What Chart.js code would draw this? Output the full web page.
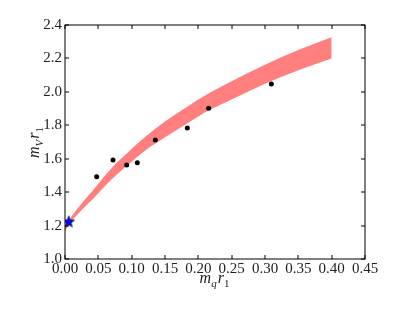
<!DOCTYPE html>
<html>
<head>
<meta charset="utf-8">
<script src="https://cdn.jsdelivr.net/npm/chart.js"></script>
<style>
  html, body { margin: 0; padding: 0; background: #fff; }
</style>
</head>
<body>
<canvas id="chart" width="399" height="319"></canvas>
<script>
// fit band (upper / lower edge)
const bandX     = [0.000, 0.005, 0.020, 0.045, 0.070, 0.095, 0.120, 0.150, 0.185, 0.215, 0.250, 0.300, 0.350, 0.400];
const bandUpper = [1.185, 1.224, 1.308, 1.427, 1.545, 1.640, 1.730, 1.822, 1.915, 1.990, 2.064, 2.162, 2.250, 2.326];
const bandLower = [1.165, 1.200, 1.272, 1.373, 1.477, 1.566, 1.648, 1.728, 1.815, 1.888, 1.955, 2.048, 2.130, 2.200];

// lattice points
const pointX = [0.0475, 0.072, 0.0925, 0.1085, 0.1355, 0.1835, 0.2155, 0.3095];
const pointY = [1.492, 1.592, 1.562, 1.576, 1.712, 1.784, 1.902, 2.047];

// physical point (star)
const starX = [0.0055];
const starY = [1.225];

const xTicks = [0, 0.05, 0.10, 0.15, 0.20, 0.25, 0.30, 0.35, 0.40, 0.45];
const yTicks = [1.0, 1.2, 1.4, 1.6, 1.8, 2.0, 2.2, 2.4];

const FONT = "'Liberation Serif', 'DejaVu Serif', serif";

function starImage(r) {
  const c = document.createElement('canvas');
  const s = Math.ceil(r * 2 + 4);
  c.width = s; c.height = s;
  const g = c.getContext('2d');
  g.translate(s / 2, s / 2 + r * 0.1);
  g.beginPath();
  for (let i = 0; i < 10; i++) {
    const rad = i % 2 ? r * 0.42 : r;
    const ang = -Math.PI / 2 + i * Math.PI / 5;
    g.lineTo(rad * Math.cos(ang), rad * Math.sin(ang));
  }
  g.closePath();
  g.fillStyle = '#0000ff';
  g.fill();
  g.strokeStyle = '#000060';
  g.lineWidth = 0.8;
  g.stroke();
  return c;
}

// draw "m_q r_1" style labels, parts: [text, isSub, italic]
function drawLabel(ctx, parts, cx, cy) {
  const big = 16, small = 11;
  let w = 0;
  parts.forEach(p => {
    ctx.font = (p[2] ? 'italic ' : '') + (p[1] ? small : big) + 'px ' + FONT;
    w += ctx.measureText(p[0]).width + (p[1] ? 1 : 0);
  });
  let x = cx - w / 2;
  parts.forEach(p => {
    ctx.font = (p[2] ? 'italic ' : '') + (p[1] ? small : big) + 'px ' + FONT;
    ctx.fillText(p[0], x, cy + (p[1] ? 4 : 0));
    x += ctx.measureText(p[0]).width + (p[1] ? 1 : 0);
  });
}

const frame = {
  id: 'frame',
  afterDraw(chart) {
    const { ctx, chartArea: a, scales: { x, y } } = chart;
    ctx.save();
    ctx.strokeStyle = '#000';
    ctx.lineWidth = 1;
    ctx.strokeRect(a.left, a.top, a.right - a.left, a.bottom - a.top);
    ctx.beginPath();
    xTicks.forEach(v => {
      const px = Math.round(x.getPixelForValue(v));
      ctx.moveTo(px, a.bottom); ctx.lineTo(px, a.bottom - 4);
      ctx.moveTo(px, a.top); ctx.lineTo(px, a.top + 4);
    });
    yTicks.forEach(v => {
      const py = Math.round(y.getPixelForValue(v));
      ctx.moveTo(a.left, py); ctx.lineTo(a.left + 4, py);
      ctx.moveTo(a.right, py); ctx.lineTo(a.right - 4, py);
    });
    ctx.stroke();

    ctx.fillStyle = '#222';
    ctx.textBaseline = 'alphabetic';
    ctx.textAlign = 'left';
    drawLabel(ctx, [['m', 0, 1], ['q', 1, 1], ['r', 0, 1], ['1', 1, 0]], (a.left + a.right) / 2, 283);
    ctx.translate(39, (a.top + a.bottom) / 2);
    ctx.rotate(-Math.PI / 2);
    drawLabel(ctx, [['m', 0, 1], ['V', 1, 1], ['r', 0, 1], ['1', 1, 0]], 0, 0);
    ctx.restore();
  }
};

const ctx = document.getElementById('chart').getContext('2d');
new Chart(ctx, {
  type: 'scatter',
  data: {
    datasets: [
      {
        label: 'fit upper',
        data: bandX.map((v, i) => ({ x: v, y: bandUpper[i] })),
        showLine: true,
        borderWidth: 0,
        borderColor: 'rgba(0,0,0,0)',
        pointRadius: 0,
        fill: false,
        cubicInterpolationMode: 'monotone',
        order: 3
      },
      {
        label: 'fit lower',
        data: bandX.map((v, i) => ({ x: v, y: bandLower[i] })),
        showLine: true,
        borderWidth: 0,
        borderColor: 'rgba(0,0,0,0)',
        backgroundColor: 'rgba(255,0,0,0.5)',
        pointRadius: 0,
        fill: '-1',
        cubicInterpolationMode: 'monotone',
        order: 3
      },
      {
        label: 'lattice',
        data: pointX.map((v, i) => ({ x: v, y: pointY[i] })),
        pointRadius: 2.5,
        backgroundColor: '#000',
        borderColor: '#000',
        borderWidth: 0,
        order: 1
      },
      {
        label: 'physical',
        data: starX.map((v, i) => ({ x: v, y: starY[i] })),
        pointStyle: starImage(6),
        pointRadius: 7,
        order: 0
      }
    ]
  },
  options: {
    responsive: false,
    animation: false,
    events: [],
    layout: { padding: { top: 25, right: 34, left: 0, bottom: 0 } },
    plugins: {
      legend: { display: false },
      tooltip: { enabled: false }
    },
    scales: {
      x: {
        type: 'linear',
        min: 0,
        max: 0.45,
        afterBuildTicks: s => { s.ticks = xTicks.map(v => ({ value: v })); },
        afterFit: s => { s.height = 60; },
        grid: { display: false, drawTicks: false },
        border: { display: false },
        ticks: {
          autoSkip: false,
          maxRotation: 0,
          minRotation: 0,
          padding: 1,
          color: '#222',
          font: { family: FONT, size: 15 },
          callback: v => v.toFixed(2)
        }
      },
      y: {
        type: 'linear',
        min: 1.0,
        max: 2.4,
        afterBuildTicks: s => { s.ticks = yTicks.map(v => ({ value: v })); },
        afterFit: s => { s.width = 65; },
        grid: { display: false, drawTicks: false },
        border: { display: false },
        ticks: {
          autoSkip: false,
          padding: 3,
          color: '#222',
          font: { family: FONT, size: 15 },
          callback: v => v.toFixed(1)
        }
      }
    }
  },
  plugins: [frame]
});
</script>
</body>
</html>
